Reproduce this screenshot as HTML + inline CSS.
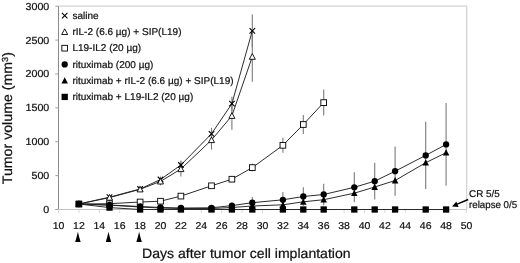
<!DOCTYPE html>
<html><head><meta charset="utf-8"><title>Tumor volume chart</title>
<style>html,body{margin:0;padding:0;background:#fff}svg{display:block}text{font-family:"Liberation Sans",Arial,sans-serif;stroke:#111;stroke-width:.22px;text-rendering:geometricPrecision}</style></head>
<body>
<svg width="520" height="263" viewBox="0 0 520 263" fill="#111">
<rect width="520" height="263" fill="#fff"/>
<path d="M58.5 6.2H466.7V209.5" fill="none" stroke="#d4d4d4" stroke-width="1.3"/>
<path d="M55.5 209.5H466.7" fill="none" stroke="#c2c2c2" stroke-width="1"/>
<path d="M58.5 6.2V209.5" fill="none" stroke="#8a8a8a" stroke-width="1"/>
<path d="M55.3 209.50H58.5" stroke="#a0a0a0" stroke-width="1"/>
<text transform="translate(49.3 213.0) scale(1.05 1)" font-size="10.2" text-anchor="end">0</text>
<path d="M55.3 175.62H58.5" stroke="#a0a0a0" stroke-width="1"/>
<text transform="translate(49.3 179.12) scale(1.05 1)" font-size="10.2" text-anchor="end">500</text>
<path d="M55.3 141.73H58.5" stroke="#a0a0a0" stroke-width="1"/>
<text transform="translate(49.3 145.23) scale(1.05 1)" font-size="10.2" text-anchor="end">1000</text>
<path d="M55.3 107.85H58.5" stroke="#a0a0a0" stroke-width="1"/>
<text transform="translate(49.3 111.35) scale(1.05 1)" font-size="10.2" text-anchor="end">1500</text>
<path d="M55.3 73.97H58.5" stroke="#a0a0a0" stroke-width="1"/>
<text transform="translate(49.3 77.47) scale(1.05 1)" font-size="10.2" text-anchor="end">2000</text>
<path d="M55.3 40.08H58.5" stroke="#a0a0a0" stroke-width="1"/>
<text transform="translate(49.3 43.58) scale(1.05 1)" font-size="10.2" text-anchor="end">2500</text>
<path d="M55.3 6.20H58.5" stroke="#a0a0a0" stroke-width="1"/>
<text transform="translate(49.3 9.7) scale(1.05 1)" font-size="10.2" text-anchor="end">3000</text>
<path d="M58.5 209.5V213" stroke="#d8d8d8" stroke-width="1"/>
<text transform="translate(58.5 228.8) scale(1.05 1)" font-size="10" text-anchor="middle">10</text>
<path d="M78.9 209.5V213" stroke="#d8d8d8" stroke-width="1"/>
<text transform="translate(78.9 228.8) scale(1.05 1)" font-size="10" text-anchor="middle">12</text>
<path d="M99.3 209.5V213" stroke="#d8d8d8" stroke-width="1"/>
<text transform="translate(99.3 228.8) scale(1.05 1)" font-size="10" text-anchor="middle">14</text>
<path d="M119.7 209.5V213" stroke="#d8d8d8" stroke-width="1"/>
<text transform="translate(119.7 228.8) scale(1.05 1)" font-size="10" text-anchor="middle">16</text>
<path d="M140.1 209.5V213" stroke="#d8d8d8" stroke-width="1"/>
<text transform="translate(140.1 228.8) scale(1.05 1)" font-size="10" text-anchor="middle">18</text>
<path d="M160.5 209.5V213" stroke="#d8d8d8" stroke-width="1"/>
<text transform="translate(160.5 228.8) scale(1.05 1)" font-size="10" text-anchor="middle">20</text>
<path d="M180.9 209.5V213" stroke="#d8d8d8" stroke-width="1"/>
<text transform="translate(180.9 228.8) scale(1.05 1)" font-size="10" text-anchor="middle">22</text>
<path d="M201.3 209.5V213" stroke="#d8d8d8" stroke-width="1"/>
<text transform="translate(201.3 228.8) scale(1.05 1)" font-size="10" text-anchor="middle">24</text>
<path d="M221.7 209.5V213" stroke="#d8d8d8" stroke-width="1"/>
<text transform="translate(221.7 228.8) scale(1.05 1)" font-size="10" text-anchor="middle">26</text>
<path d="M242.1 209.5V213" stroke="#d8d8d8" stroke-width="1"/>
<text transform="translate(242.1 228.8) scale(1.05 1)" font-size="10" text-anchor="middle">28</text>
<path d="M262.5 209.5V213" stroke="#d8d8d8" stroke-width="1"/>
<text transform="translate(262.5 228.8) scale(1.05 1)" font-size="10" text-anchor="middle">30</text>
<path d="M282.9 209.5V213" stroke="#d8d8d8" stroke-width="1"/>
<text transform="translate(282.9 228.8) scale(1.05 1)" font-size="10" text-anchor="middle">32</text>
<path d="M303.3 209.5V213" stroke="#d8d8d8" stroke-width="1"/>
<text transform="translate(303.3 228.8) scale(1.05 1)" font-size="10" text-anchor="middle">34</text>
<path d="M323.7 209.5V213" stroke="#d8d8d8" stroke-width="1"/>
<text transform="translate(323.7 228.8) scale(1.05 1)" font-size="10" text-anchor="middle">36</text>
<path d="M344.1 209.5V213" stroke="#d8d8d8" stroke-width="1"/>
<text transform="translate(344.1 228.8) scale(1.05 1)" font-size="10" text-anchor="middle">38</text>
<path d="M364.5 209.5V213" stroke="#d8d8d8" stroke-width="1"/>
<text transform="translate(364.5 228.8) scale(1.05 1)" font-size="10" text-anchor="middle">40</text>
<path d="M384.9 209.5V213" stroke="#d8d8d8" stroke-width="1"/>
<text transform="translate(384.9 228.8) scale(1.05 1)" font-size="10" text-anchor="middle">42</text>
<path d="M405.3 209.5V213" stroke="#d8d8d8" stroke-width="1"/>
<text transform="translate(405.3 228.8) scale(1.05 1)" font-size="10" text-anchor="middle">44</text>
<path d="M425.7 209.5V213" stroke="#d8d8d8" stroke-width="1"/>
<text transform="translate(425.7 228.8) scale(1.05 1)" font-size="10" text-anchor="middle">46</text>
<path d="M446.1 209.5V213" stroke="#d8d8d8" stroke-width="1"/>
<text transform="translate(446.1 228.8) scale(1.05 1)" font-size="10" text-anchor="middle">48</text>
<path d="M466.5 209.5V213" stroke="#d8d8d8" stroke-width="1"/>
<text transform="translate(466.5 228.8) scale(1.05 1)" font-size="10" text-anchor="middle">50</text>
<path d="M160.5 176.50V182.50" stroke="#7a7a7a" stroke-width="1.1"/>
<path d="M180.9 160.40V169.60" stroke="#7a7a7a" stroke-width="1.1"/>
<path d="M211.5 127.80V139.80" stroke="#7a7a7a" stroke-width="1.1"/>
<path d="M231.9 96.70V110.70" stroke="#7a7a7a" stroke-width="1.1"/>
<path d="M252.3 14.40V47.20" stroke="#7a7a7a" stroke-width="1.1"/>
<path d="M160.5 177.40V185.40" stroke="#7a7a7a" stroke-width="1.1"/>
<path d="M180.9 161.50V176.50" stroke="#7a7a7a" stroke-width="1.1"/>
<path d="M211.5 130.40V149.60" stroke="#7a7a7a" stroke-width="1.1"/>
<path d="M231.9 101.80V129.80" stroke="#7a7a7a" stroke-width="1.1"/>
<path d="M252.3 31.70V81.70" stroke="#7a7a7a" stroke-width="1.1"/>
<path d="M231.9 176.20V182.20" stroke="#7a7a7a" stroke-width="1.1"/>
<path d="M252.3 163.60V171.60" stroke="#7a7a7a" stroke-width="1.1"/>
<path d="M282.9 137.80V152.80" stroke="#7a7a7a" stroke-width="1.1"/>
<path d="M303.3 115.00V134.00" stroke="#7a7a7a" stroke-width="1.1"/>
<path d="M323.7 89.60V115.60" stroke="#7a7a7a" stroke-width="1.1"/>
<path d="M252.3 197.00V208.40" stroke="#7a7a7a" stroke-width="1.1"/>
<path d="M282.9 192.00V207.60" stroke="#7a7a7a" stroke-width="1.1"/>
<path d="M303.3 187.30V205.70" stroke="#7a7a7a" stroke-width="1.1"/>
<path d="M323.7 183.80V205.20" stroke="#7a7a7a" stroke-width="1.1"/>
<path d="M354.3 172.30V202.30" stroke="#7a7a7a" stroke-width="1.1"/>
<path d="M374.7 162.80V199.60" stroke="#7a7a7a" stroke-width="1.1"/>
<path d="M395.1 146.60V195.80" stroke="#7a7a7a" stroke-width="1.1"/>
<path d="M425.7 121.70V189.10" stroke="#7a7a7a" stroke-width="1.1"/>
<path d="M446.1 103.10V185.70" stroke="#7a7a7a" stroke-width="1.1"/>
<polyline points="78.9,204 109.5,197.2 140.1,189 160.5,179.5 180.9,165 211.5,133.8 231.9,103.7 252.3,30.8" fill="none" stroke="#222" stroke-width="0.95"/>
<path d="M76.15 201.25L81.65 206.75M76.15 206.75L81.65 201.25" stroke="#000" stroke-width="1.1" fill="none"/>
<path d="M106.75 194.45L112.25 199.95M106.75 199.95L112.25 194.45" stroke="#000" stroke-width="1.1" fill="none"/>
<path d="M137.35 186.25L142.85 191.75M137.35 191.75L142.85 186.25" stroke="#000" stroke-width="1.1" fill="none"/>
<path d="M157.75 176.75L163.25 182.25M157.75 182.25L163.25 176.75" stroke="#000" stroke-width="1.1" fill="none"/>
<path d="M178.15 162.25L183.65 167.75M178.15 167.75L183.65 162.25" stroke="#000" stroke-width="1.1" fill="none"/>
<path d="M208.75 131.05L214.25 136.55M208.75 136.55L214.25 131.05" stroke="#000" stroke-width="1.1" fill="none"/>
<path d="M229.15 100.95L234.65 106.45M229.15 106.45L234.65 100.95" stroke="#000" stroke-width="1.1" fill="none"/>
<path d="M249.55 28.05L255.05 33.55M249.55 33.55L255.05 28.05" stroke="#000" stroke-width="1.1" fill="none"/>
<polyline points="78.9,204 109.5,197.6 140.1,189.3 160.5,181.4 180.9,169 211.5,140 231.9,115.8 252.3,56.7" fill="none" stroke="#222" stroke-width="0.95"/>
<path d="M78.90 200.90L81.90 206.60L75.90 206.60Z" stroke="#000" stroke-width="0.9" fill="#fff"/>
<path d="M109.50 194.50L112.50 200.20L106.50 200.20Z" stroke="#000" stroke-width="0.9" fill="#fff"/>
<path d="M140.10 186.20L143.10 191.90L137.10 191.90Z" stroke="#000" stroke-width="0.9" fill="#fff"/>
<path d="M160.50 178.30L163.50 184.00L157.50 184.00Z" stroke="#000" stroke-width="0.9" fill="#fff"/>
<path d="M180.90 165.90L183.90 171.60L177.90 171.60Z" stroke="#000" stroke-width="0.9" fill="#fff"/>
<path d="M211.50 136.90L214.50 142.60L208.50 142.60Z" stroke="#000" stroke-width="0.9" fill="#fff"/>
<path d="M231.90 112.70L234.90 118.40L228.90 118.40Z" stroke="#000" stroke-width="0.9" fill="#fff"/>
<path d="M252.30 53.60L255.30 59.30L249.30 59.30Z" stroke="#000" stroke-width="0.9" fill="#fff"/>
<polyline points="78.9,204 109.5,203.7 140.1,202 160.5,201.2 180.9,196.1 211.5,185.8 231.9,179.2 252.3,167.6 282.9,145.3 303.3,124.5 323.7,102.6" fill="none" stroke="#222" stroke-width="0.95"/>
<rect x="76.05" y="201.15" width="5.7" height="5.7" stroke="#000" stroke-width="0.9" fill="#fff"/>
<rect x="106.65" y="200.85" width="5.7" height="5.7" stroke="#000" stroke-width="0.9" fill="#fff"/>
<rect x="137.25" y="199.15" width="5.7" height="5.7" stroke="#000" stroke-width="0.9" fill="#fff"/>
<rect x="157.65" y="198.35" width="5.7" height="5.7" stroke="#000" stroke-width="0.9" fill="#fff"/>
<rect x="178.05" y="193.25" width="5.7" height="5.7" stroke="#000" stroke-width="0.9" fill="#fff"/>
<rect x="208.65" y="182.95" width="5.7" height="5.7" stroke="#000" stroke-width="0.9" fill="#fff"/>
<rect x="229.05" y="176.35" width="5.7" height="5.7" stroke="#000" stroke-width="0.9" fill="#fff"/>
<rect x="249.45" y="164.75" width="5.7" height="5.7" stroke="#000" stroke-width="0.9" fill="#fff"/>
<rect x="280.05" y="142.45" width="5.7" height="5.7" stroke="#000" stroke-width="0.9" fill="#fff"/>
<rect x="300.45" y="121.65" width="5.7" height="5.7" stroke="#000" stroke-width="0.9" fill="#fff"/>
<rect x="320.85" y="99.75" width="5.7" height="5.7" stroke="#000" stroke-width="0.9" fill="#fff"/>
<polyline points="78.9,204 109.5,205 140.1,206.5 160.5,207.5 180.9,208 211.5,207.8 231.9,205.6 252.3,202.7 282.9,199.8 303.3,196.5 323.7,194.5 354.3,187.3 374.7,181.2 395.1,171.2 425.7,155.4 446.1,144.4" fill="none" stroke="#222" stroke-width="0.95"/>
<circle cx="78.90" cy="204.00" r="3.15" fill="#000"/>
<circle cx="109.50" cy="205.00" r="3.15" fill="#000"/>
<circle cx="140.10" cy="206.50" r="3.15" fill="#000"/>
<circle cx="160.50" cy="207.50" r="3.15" fill="#000"/>
<circle cx="180.90" cy="208.00" r="3.15" fill="#000"/>
<circle cx="211.50" cy="207.80" r="3.15" fill="#000"/>
<circle cx="231.90" cy="205.60" r="3.15" fill="#000"/>
<circle cx="252.30" cy="202.70" r="3.15" fill="#000"/>
<circle cx="282.90" cy="199.80" r="3.15" fill="#000"/>
<circle cx="303.30" cy="196.50" r="3.15" fill="#000"/>
<circle cx="323.70" cy="194.50" r="3.15" fill="#000"/>
<circle cx="354.30" cy="187.30" r="3.15" fill="#000"/>
<circle cx="374.70" cy="181.20" r="3.15" fill="#000"/>
<circle cx="395.10" cy="171.20" r="3.15" fill="#000"/>
<circle cx="425.70" cy="155.40" r="3.15" fill="#000"/>
<circle cx="446.10" cy="144.40" r="3.15" fill="#000"/>
<polyline points="78.9,204 109.5,205.2 140.1,207 160.5,208 180.9,208.5 211.5,208.5 231.9,207.5 252.3,206 282.9,204.8 303.3,201.8 323.7,199.7 354.3,193.2 374.7,187 395.1,180.5 425.7,162.7 446.1,152.7" fill="none" stroke="#222" stroke-width="0.95"/>
<path d="M78.90 200.60L82.15 206.90L75.65 206.90Z" fill="#000"/>
<path d="M109.50 201.80L112.75 208.10L106.25 208.10Z" fill="#000"/>
<path d="M140.10 203.60L143.35 209.90L136.85 209.90Z" fill="#000"/>
<path d="M160.50 204.60L163.75 210.90L157.25 210.90Z" fill="#000"/>
<path d="M180.90 205.10L184.15 211.40L177.65 211.40Z" fill="#000"/>
<path d="M211.50 205.10L214.75 211.40L208.25 211.40Z" fill="#000"/>
<path d="M231.90 204.10L235.15 210.40L228.65 210.40Z" fill="#000"/>
<path d="M252.30 202.60L255.55 208.90L249.05 208.90Z" fill="#000"/>
<path d="M282.90 201.40L286.15 207.70L279.65 207.70Z" fill="#000"/>
<path d="M303.30 198.40L306.55 204.70L300.05 204.70Z" fill="#000"/>
<path d="M323.70 196.30L326.95 202.60L320.45 202.60Z" fill="#000"/>
<path d="M354.30 189.80L357.55 196.10L351.05 196.10Z" fill="#000"/>
<path d="M374.70 183.60L377.95 189.90L371.45 189.90Z" fill="#000"/>
<path d="M395.10 177.10L398.35 183.40L391.85 183.40Z" fill="#000"/>
<path d="M425.70 159.30L428.95 165.60L422.45 165.60Z" fill="#000"/>
<path d="M446.10 149.30L449.35 155.60L442.85 155.60Z" fill="#000"/>
<polyline points="78.9,204 109.5,207.6 140.1,209.5 160.5,209.5 180.9,209.5 211.5,209.5 231.9,209.5 252.3,209.5 282.9,209.5 303.3,209.5 323.7,209.5 354.3,209.5 374.7,209.5 395.1,209.5 425.7,209.5 446.1,209.5" fill="none" stroke="#222" stroke-width="0.95"/>
<rect x="75.75" y="200.85" width="6.3" height="6.3" fill="#000"/>
<rect x="106.35" y="204.45" width="6.3" height="6.3" fill="#000"/>
<rect x="136.95" y="206.35" width="6.3" height="6.3" fill="#000"/>
<rect x="157.35" y="206.35" width="6.3" height="6.3" fill="#000"/>
<rect x="177.75" y="206.35" width="6.3" height="6.3" fill="#000"/>
<rect x="208.35" y="206.35" width="6.3" height="6.3" fill="#000"/>
<rect x="228.75" y="206.35" width="6.3" height="6.3" fill="#000"/>
<rect x="249.15" y="206.35" width="6.3" height="6.3" fill="#000"/>
<rect x="279.75" y="206.35" width="6.3" height="6.3" fill="#000"/>
<rect x="300.15" y="206.35" width="6.3" height="6.3" fill="#000"/>
<rect x="320.55" y="206.35" width="6.3" height="6.3" fill="#000"/>
<rect x="351.15" y="206.35" width="6.3" height="6.3" fill="#000"/>
<rect x="371.55" y="206.35" width="6.3" height="6.3" fill="#000"/>
<rect x="391.95" y="206.35" width="6.3" height="6.3" fill="#000"/>
<rect x="422.55" y="206.35" width="6.3" height="6.3" fill="#000"/>
<rect x="442.95" y="206.35" width="6.3" height="6.3" fill="#000"/>
<path d="M61.95 12.95L67.45 18.45M61.95 18.45L67.45 12.95" stroke="#000" stroke-width="1.1" fill="none"/>
<text transform="translate(72.4 19.0) scale(1.015 1)" font-size="9.9" text-anchor="start">saline</text>
<path d="M64.70 28.84L67.70 34.54L61.70 34.54Z" stroke="#000" stroke-width="0.9" fill="#fff"/>
<text transform="translate(72.4 35.24) scale(1.015 1)" font-size="9.9" text-anchor="start">rIL-2 (6.6 µg) + SIP(L19)</text>
<rect x="61.85" y="45.33" width="5.7" height="5.7" stroke="#000" stroke-width="0.9" fill="#fff"/>
<text transform="translate(72.4 51.48) scale(1.015 1)" font-size="9.9" text-anchor="start">L19-IL2 (20 µg)</text>
<circle cx="64.70" cy="64.42" r="3.15" fill="#000"/>
<text transform="translate(72.4 67.72) scale(1.015 1)" font-size="9.9" text-anchor="start">rituximab (200 µg)</text>
<path d="M64.70 77.26L67.95 83.56L61.45 83.56Z" fill="#000"/>
<text transform="translate(72.4 83.96) scale(1.015 1)" font-size="9.9" text-anchor="start">rituximab + rIL-2 (6.6 µg) + SIP(L19)</text>
<rect x="61.55" y="93.75" width="6.3" height="6.3" fill="#000"/>
<text transform="translate(72.4 100.2) scale(1.015 1)" font-size="9.9" text-anchor="start">rituximab + L19-IL2 (20 µg)</text>
<path d="M77.90 231.7Q79.00 237 80.65 242L75.15 242Q76.80 237 77.90 231.7Z" fill="#000"/>
<path d="M108.50 231.7Q109.60 237 111.25 242L105.75 242Q107.40 237 108.50 231.7Z" fill="#000"/>
<path d="M139.10 231.7Q140.20 237 141.85 242L136.35 242Q138.00 237 139.10 231.7Z" fill="#000"/>
<text transform="translate(142 258.2) scale(1.034 1)" font-size="13.6" text-anchor="start">Days after tumor cell implantation</text>
<text transform="translate(12.2 184.2) rotate(-90) scale(1.035 1)" font-size="13.7">Tumor volume (mm<tspan font-size="8.8" dy="-4.3">3</tspan><tspan dy="4.3">)</tspan></text>
<text transform="translate(469.0 196.9) scale(1.01 1)" font-size="9.8" text-anchor="start">CR 5/5</text>
<text transform="translate(469.0 208.1) scale(0.985 1)" font-size="9.9" text-anchor="start">relapse 0/5</text>
<path d="M468.2 199.5L456 204.7" stroke="#000" stroke-width="1.45"/>
<path d="M452.0 206.5L456.4 201.5L457.2 204.2L458.7 206.9Z" fill="#000"/>
</svg>
</body></html>
